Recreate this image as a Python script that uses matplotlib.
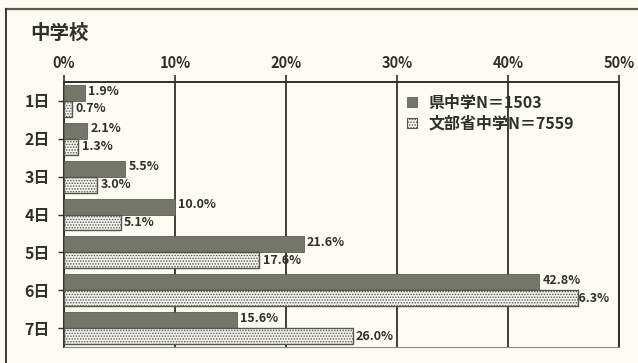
import numpy as np
import matplotlib
matplotlib.use("Agg")
import matplotlib.pyplot as plt
from matplotlib.patches import Patch
from matplotlib.lines import Line2D

plt.rcParams["font.family"] = ["Noto Sans CJK JP", "DejaVu Sans"]
plt.rcParams["font.weight"] = "bold"
plt.rcParams["hatch.linewidth"] = 0.7

# --- Data ---
days = ["1日", "2日", "3日", "4日", "5日", "6日", "7日"]
pref = [1.9, 2.1, 5.5, 10.0, 21.6, 42.8, 15.6]      # 県中学 N=1503
mext = [0.7, 1.3, 3.0, 5.1, 17.6, 46.3, 26.0]       # 文部省中学 N=7559
xticks = [0, 10, 20, 30, 40, 50]

BG = "#fcfcf4"
DARK = "#74766a"
INK = "#2f3027"

fig = plt.figure(figsize=(6.38, 3.63), dpi=100, facecolor=BG)
ax = fig.add_axes([64 / 638, 1 - 347 / 363, 555 / 638, 265 / 363])
ax.set_facecolor(BG)

y = np.arange(len(days))
h = 0.42
ax.barh(y - h / 2, pref, height=h, color=DARK, edgecolor="#5d5f53",
        linewidth=0.6, zorder=3)
ax.barh(y + h / 2, mext, height=h, color="#f4f4ee", edgecolor="#55564c",
        hatch="......", linewidth=1.0, zorder=3)

# value labels (drawn under the bars, so the longest one tucks behind its bar)
for i, (a, b) in enumerate(zip(pref, mext)):
    ax.text(a + 0.3, i - h / 2 - 0.05, f"{a:.1f}%", va="center", ha="left",
            fontsize=9, color=INK, zorder=2)
    xb = b + 0.3 if b < 45 else b - 0.6
    ax.text(xb, i + h / 2, f"{b:.1f}%", va="center", ha="left",
            fontsize=9, color=INK, zorder=2)

ax.set_xlim(0, 50)
ax.set_ylim(len(days) - 0.5, -0.5)
ax.set_yticks(y)
ax.set_yticklabels(days, fontsize=11.5, color=INK)
ax.set_xticks(xticks)
ax.set_xticklabels([f"{t}%" for t in xticks], fontsize=10.5, color=INK)
ax.xaxis.tick_top()
ax.tick_params(axis="x", length=5, width=1.2, color=INK, pad=3)
ax.tick_params(axis="y", length=4, width=1.0, color=INK, pad=6)

ax.grid(axis="x", color=INK, linewidth=1.3, zorder=1)
ax.set_axisbelow(True)
for side in ["top", "left", "right"]:
    ax.spines[side].set_color(INK)
    ax.spines[side].set_linewidth(1.4)
ax.spines["bottom"].set_color("#8a8b7c")
ax.spines["bottom"].set_linewidth(0.8)

# legend
handles = [Patch(facecolor=DARK, edgecolor="#5d5f53", linewidth=0.6),
           Patch(facecolor="#f4f4ee", edgecolor="#55564c", hatch="......", linewidth=0.8)]
fig.legend(handles, ["県中学N＝1503", "文部省中学N＝7559"], loc="upper left",
           bbox_to_anchor=(407 / 638, 1 - 95 / 363), frameon=False,
           fontsize=11.5, handlelength=0.6, handleheight=0.6,
           handletextpad=0.75, labelspacing=0.3, borderpad=0, borderaxespad=0,
           labelcolor=INK)

# title and outer frame
fig.text(30 / 638, 1 - 33 / 363, "中学校", fontsize=14, color=INK,
         ha="left", va="center")
fig.add_artist(Line2D([6 / 638, 1], [1 - 9 / 363] * 2, transform=fig.transFigure,
                      color="#5a5c45", linewidth=1.6))
fig.add_artist(Line2D([6 / 638] * 2, [0, 1 - 9 / 363], transform=fig.transFigure,
                      color="#3a3b30", linewidth=1.4))

fig.savefig("out.png", dpi=100, facecolor=BG)
